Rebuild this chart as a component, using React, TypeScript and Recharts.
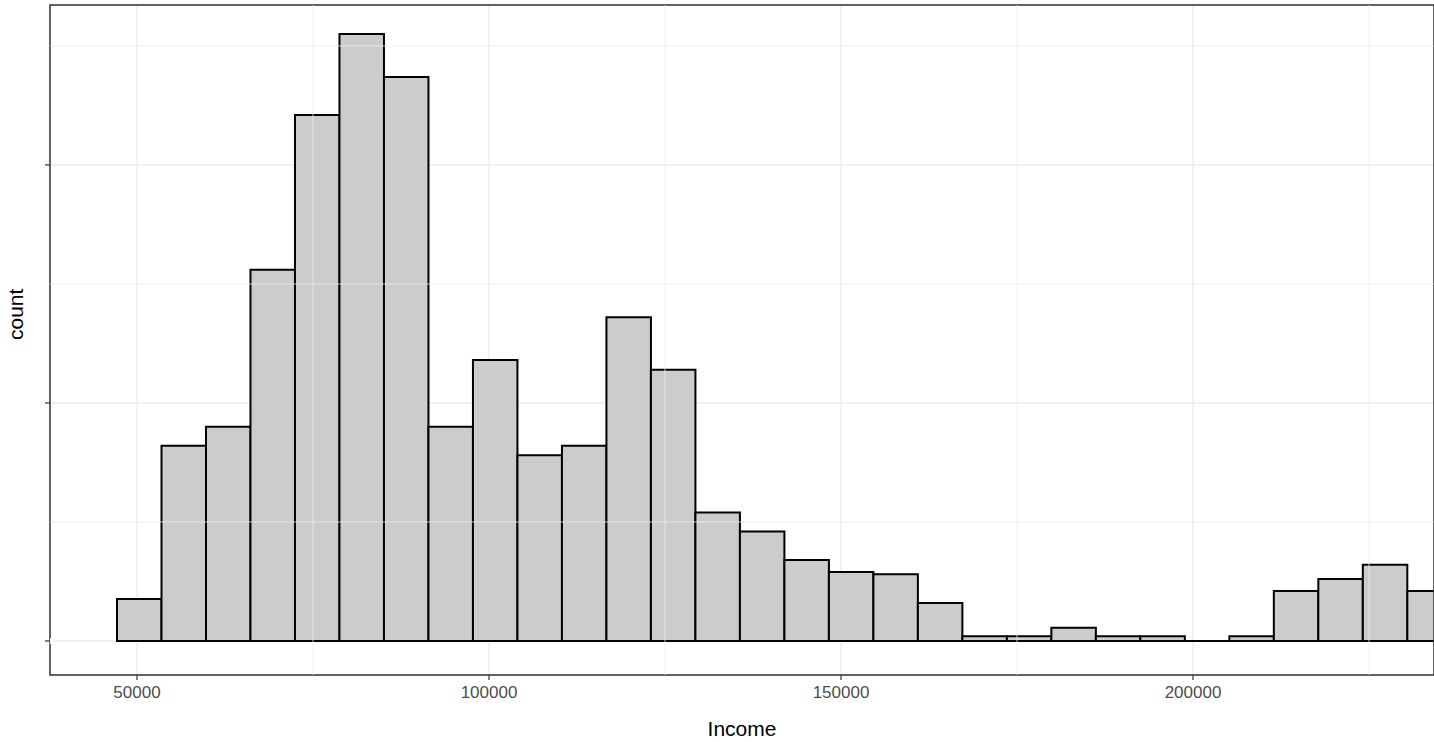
import React from "react";
import {
  ComposedChart,
  XAxis,
  YAxis,
  CartesianGrid,
  ReferenceArea,
  ReferenceLine,
  Line,
} from "recharts";

// histogram bins (left edge of first bin, bin width) and counts
const BIN_START = 47160;
const BIN_WIDTH = 6320;
const counts = [
  17.6, 82, 90, 156, 221, 255, 237, 90, 118, 78, 82, 136, 114, 54, 46, 34, 29,
  28, 16, 2, 2, 5.5, 2, 2, 0, 2, 21, 26, 32, 21,
];
const xTicks = [50000, 100000, 150000, 200000];
const xMinor = [75000, 125000, 175000, 225000];
const yTicks = [0, 100, 200];
const yMinor = [50, 150, 250];
const X_DOMAIN: [number, number] = [37642, 234230];
const Y_DOMAIN: [number, number] = [-14.3, 267.2];

const bins = counts.map((c, i) => ({
  x1: BIN_START + i * BIN_WIDTH,
  x2: BIN_START + (i + 1) * BIN_WIDTH,
  count: c,
}));

const font = "'Liberation Sans', Arial, sans-serif";
const EmptyTick = () => <g />;

export default function App() {
  return (
    <div style={{ position: "absolute", left: 0, top: 0, fontFamily: font }}>
      <ComposedChart
        width={1434}
        height={742}
        data={[{ x: X_DOMAIN[0], y: 0 }]}
        margin={{ top: 5, right: 0, left: 0, bottom: 0 }}
      >
        <CartesianGrid stroke="#ebebeb" strokeWidth={1.4} />
        {xMinor.map((v) => (
          <ReferenceLine key={"x" + v} x={v} stroke="#ebebeb" strokeWidth={0.8} />
        ))}
        {yMinor.map((v) => (
          <ReferenceLine key={"y" + v} y={v} stroke="#ebebeb" strokeWidth={0.8} />
        ))}
        <XAxis
          type="number"
          dataKey="x"
          domain={X_DOMAIN}
          allowDataOverflow
          ticks={xTicks}
          height={67}
          axisLine={false}
          tickLine={{ stroke: "#333", strokeWidth: 1.2 }}
          tickSize={5}
          tickMargin={6}
          tick={{ fill: "#4d4d4d", fontSize: 17, fontFamily: font }}
          label={{ value: "Income", position: "insideBottom", offset: 6, fill: "#000", fontSize: 21, fontFamily: font }}
        />
        <YAxis
          type="number"
          domain={Y_DOMAIN}
          allowDataOverflow
          ticks={yTicks}
          width={50}
          axisLine={false}
          tickLine={{ stroke: "#333", strokeWidth: 1.2 }}
          tickSize={5}
          tick={EmptyTick}
          label={{ value: "count", angle: -90, position: "insideLeft", offset: 16, fill: "#000", fontSize: 21, fontFamily: font }}
        />
        {bins.map((b, i) =>
          b.count > 0 ? (
            <ReferenceArea
              key={i}
              x1={b.x1}
              x2={b.x2}
              y1={0}
              y2={b.count}
              fill="#cccccc"
              fillOpacity={1}
              stroke="#000"
              strokeWidth={2}
              ifOverflow="hidden"
            />
          ) : (
            <ReferenceLine
              key={i}
              segment={[
                { x: b.x1, y: 0 },
                { x: b.x2, y: 0 },
              ]}
              stroke="#000"
              strokeWidth={2}
            />
          )
        )}
        <ReferenceArea
          x1={X_DOMAIN[0]}
          x2={X_DOMAIN[1]}
          y1={Y_DOMAIN[0]}
          y2={Y_DOMAIN[1]}
          fill="none"
          stroke="#333"
          strokeWidth={1.5}
        />
        <Line dataKey="y" stroke="none" dot={false} isAnimationActive={false} />
      </ComposedChart>
    </div>
  );
}
